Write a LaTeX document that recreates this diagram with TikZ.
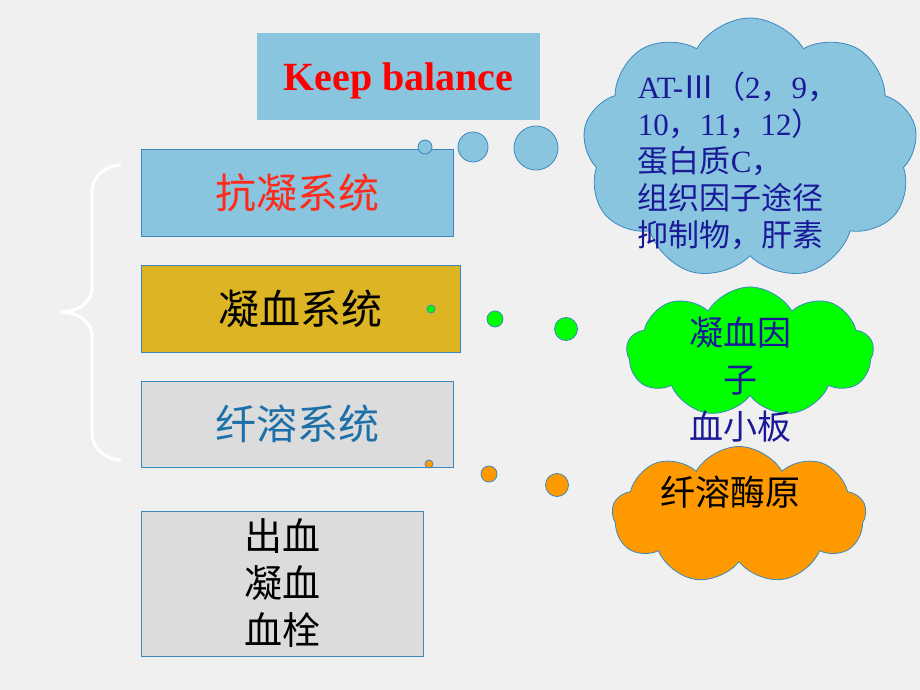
\documentclass[tikz,border=0pt]{standalone}
\usepackage{fontspec}
\setmainfont{Liberation Serif}
\newfontfamily\cjk{Noto Sans CJK SC}
\usetikzlibrary{shapes.symbols}
\definecolor{bgcol}{HTML}{F0F0F0}
\definecolor{skyfill}{HTML}{89C5DE}
\definecolor{boxline}{HTML}{3B88BE}
\definecolor{goldfill}{HTML}{DCB424}
\definecolor{greyfill}{HTML}{DCDCDC}
\definecolor{redtext}{HTML}{FF2A1A}
\definecolor{fibtext}{HTML}{1C70A8}
\definecolor{navy}{HTML}{1A1A99}
\definecolor{greenfill}{HTML}{00FF00}
\definecolor{orangefill}{HTML}{FF9900}

\begin{document}
\begin{tikzpicture}[x=1pt,y=-1pt,
    sysbox/.style={draw=boxline, line width=0.9pt, inner sep=0pt},
    bubble/.style={cloud, cloud puffs=9, cloud puff arc=120, aspect=1.3,
      draw=boxline, line width=0.8pt, inner sep=0pt},
    dot/.style={draw=boxline, line width=0.8pt}]
        \fill [bgcol] (0,0) rectangle (920,690);
        % left boxes
        \node [fill=skyfill, minimum width=283pt, minimum height=87pt, inner sep=0pt, text depth=0pt,
          text=red, font=\bfseries\fontsize{40}{44}\selectfont] (keep) at (398.5,76.5) {Keep balance};
        \node [sysbox, fill=skyfill, minimum width=312pt, minimum height=87pt,
          text=redtext, font=\cjk\fontsize{41}{44}\selectfont] (anti) at (297,192.5) {抗凝系统};
        \node [sysbox, fill=goldfill, minimum width=319pt, minimum height=87pt,
          text=black, font=\cjk\fontsize{41}{44}\selectfont] (coag) at (300.5,308.5) {凝血系统};
        \node [sysbox, fill=greyfill, minimum width=312pt, minimum height=86pt,
          text=fibtext, font=\cjk\fontsize{41}{44}\selectfont] (fibr) at (297,424) {纤溶系统};
        \node [sysbox, fill=greyfill, minimum width=282pt, minimum height=145pt, align=center,
          text=black, font=\cjk\fontsize{38}{47}\selectfont] (result) at (282,583.5) {出血\\凝血\\血栓};
        % brace
        \draw [white, line width=3pt] (121,165) to[out=180, in=90] (92,192) -- (92,288)
          to[out=-90, in=0] (61,312) to[out=0, in=90] (92,336) -- (92,433)
          to[out=-90, in=180] (121,460);
        % clouds
        \node [bubble, fill=skyfill, minimum width=335pt, minimum height=262pt] (antic) at (750,149) {};
        \node [bubble, fill=greenfill, minimum width=247pt, minimum height=130pt] (coagc) at (750,352) {};
        \node [bubble, fill=orangefill, minimum width=254pt, minimum height=137pt] (fibrc) at (739,515) {};
        \node [align=left, text=navy, font=\fontsize{31}{37}\selectfont] (antit) at (738,161)
          {AT-{\cjk Ⅲ（}2{\cjk ，}9{\cjk ，}\\10{\cjk ，}11{\cjk ，}12{\cjk ）}\\{\cjk 蛋白质}C{\cjk ，}\\{\cjk 组织因子途径}\\{\cjk 抑制物，肝素}};
        \node [align=center, text=navy, font=\cjk\fontsize{34}{47}\selectfont] (coagt) at (740,380) {凝血因\\子\\血小板};
        \node [text=black, font=\cjk\fontsize{35}{40}\selectfont] (fibrt) at (730,492) {纤溶酶原};
        % thought dots
        \foreach \x/\y/\r in {425/147/7, 473/147/15, 536/148/22}
        \filldraw [dot, fill=skyfill] (\x,\y) circle (\r);
        \foreach \x/\y/\r in {431/309/4, 495/319/8, 566/329/11.5}
        \filldraw [dot, fill=greenfill] (\x,\y) circle (\r);
        \foreach \x/\y/\r in {429/464/4, 489/474/8, 557/485/11.5}
        \filldraw [dot, fill=orangefill] (\x,\y) circle (\r);
\end{tikzpicture}
\end{document}
